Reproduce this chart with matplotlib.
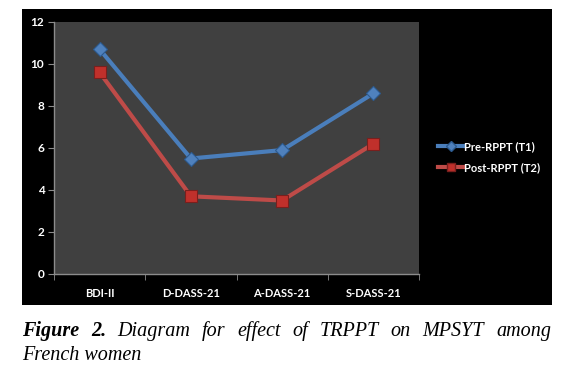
import matplotlib
matplotlib.use("Agg")
import matplotlib.pyplot as plt
from matplotlib.patches import Rectangle
from matplotlib.lines import Line2D
import numpy as np

categories = ["BDI-II", "D-DASS-21", "A-DASS-21", "S-DASS-21"]
pre_rppt = [10.7, 5.5, 5.9, 8.6]
post_rppt = [9.6, 3.7, 3.5, 6.2]
series_names = ["Pre-RPPT (T1)", "Post-RPPT (T2)"]
y_ticks = [0, 2, 4, 6, 8, 10, 12]

W, H = 562, 368
fig = plt.figure(figsize=(W / 100, H / 100), dpi=100)
fig.patch.set_facecolor("white")

# black chart panel
fig.patches.append(Rectangle((22 / W, 1 - 305 / H), 530 / W, 296 / H,
                             transform=fig.transFigure, facecolor="black",
                             edgecolor="none", zorder=0))

ax = fig.add_axes([54 / W, 1 - 274 / H, 365 / W, 252 / H])
ax.set_zorder(2)
ax.set_facecolor("#404040")

x = np.arange(len(categories))
blue = "#4A7EBB"
red = "#BE4B48"
ax.plot(x, pre_rppt, color=blue, lw=3, marker="D", ms=7,
        mfc="#4F81BD", mec="#2C5A8F", mew=0.8, zorder=3)
ax.plot(x, post_rppt, color=red, lw=3, marker="s", ms=9,
        mfc="#C0302B", mec="#7A1F1D", mew=0.8, zorder=3)

ax.set_xlim(-0.5, len(categories) - 0.5)
ax.set_ylim(0, 12)
ax.set_yticks(y_ticks)
ax.set_xticks(x)
ax.set_xticklabels(categories)
ax.set_xticks(np.arange(len(categories) + 1) - 0.5, minor=True)

for s in ["top", "right"]:
    ax.spines[s].set_visible(False)
for s in ["left", "bottom"]:
    ax.spines[s].set_color("#8C8C8C")
    ax.spines[s].set_linewidth(1)

ax.tick_params(axis="x", which="major", length=0, pad=10)
ax.tick_params(axis="x", which="minor", length=4, color="#8C8C8C", direction="out")
ax.tick_params(axis="y", length=4, color="#8C8C8C", pad=3)
for lbl in ax.get_xticklabels() + ax.get_yticklabels():
    lbl.set_color("white")
    lbl.set_fontweight("bold")
    lbl.set_fontfamily("Lato")
    lbl.set_fontsize(8)
for lbl in ax.get_yticklabels():
    lbl.set_fontsize(8.5)

handles = [
    Line2D([], [], color=blue, lw=3, marker="D", ms=5, mfc="#4F81BD", mec="#2C5A8F"),
    Line2D([], [], color=red, lw=3, marker="s", ms=6, mfc="#C0302B", mec="#7A1F1D"),
]
leg = fig.legend(handles, series_names, loc="center left",
                 bbox_to_anchor=(428 / W, 1 - 157 / H), frameon=False,
                 handlelength=2.3, handletextpad=0.0, labelspacing=0.9,
                 prop={"family": "Lato", "weight": "bold", "size": 8})
leg.set_zorder(3)
for t in leg.get_texts():
    t.set_color("white")

# justified caption
line1 = [("Figure", "bold"), ("2.", "bold"), ("Diagram", "normal"), ("for", "normal"),
         ("effect", "normal"), ("of", "normal"), ("TRPPT", "normal"), ("on", "normal"),
         ("MPSYT", "normal"), ("among", "normal")]
left, right = 22, 551
fs = 14.5
texts = []
for w, wt in line1:
    t = fig.text(0, 1 - 336 / H, w, fontsize=fs, family="Liberation Serif",
                 style="italic", weight=wt, va="baseline", ha="left")
    texts.append(t)
fig.canvas.draw()
r = fig.canvas.get_renderer()
widths = [t.get_window_extent(r).width for t in texts]
gap = (right - left - sum(widths)) / (len(texts) - 1)
pos = left
for t, wd in zip(texts, widths):
    t.set_x(pos / W)
    pos += wd + gap
fig.text(left / W, 1 - 360 / H, "French women", fontsize=fs, family="Liberation Serif",
         style="italic", va="baseline", ha="left")

fig.savefig("out.png", dpi=100)
